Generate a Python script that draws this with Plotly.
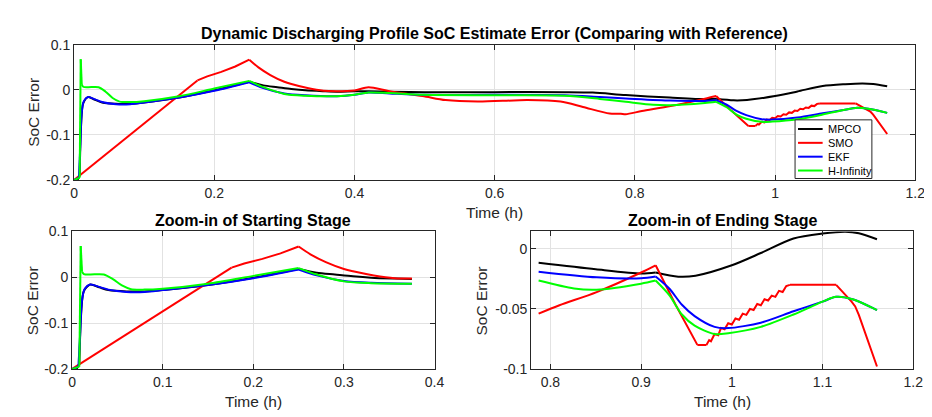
import plotly.graph_objects as go
import numpy as np

# ---------------- data ----------------
mpco_t = [0, 0.005, 0.008, 0.010, 0.013, 0.02, 0.03, 0.04, 0.06, 0.08, 0.1, 0.15, 0.2, 0.25,
          0.27, 0.29, 0.31, 0.33, 0.356, 0.375, 0.4, 0.42, 0.45, 0.5, 0.6, 0.7, 0.74, 0.787,
          0.85, 0.9, 0.916, 0.941, 0.96, 1.0, 1.032, 1.068, 1.1, 1.125, 1.14, 1.16]
mpco_v = [-0.2, -0.2, -0.19, -0.08, -0.03, -0.016, -0.022, -0.028, -0.031, -0.031, -0.028, -0.017,
          -0.001, 0.018, 0.010, 0.006, 0.002, -0.001, -0.003, -0.004, -0.003, -0.003, -0.004, -0.005,
          -0.005, -0.005, -0.006, -0.0116, -0.017, -0.0205, -0.0197, -0.0232, -0.0224, -0.0137,
          -0.0035, 0.0086, 0.0127, 0.0143, 0.013, 0.008]

smo_t = [0, 0.176, 0.19, 0.21, 0.23, 0.25, 0.263, 0.28, 0.3, 0.31, 0.333, 0.356, 0.375, 0.4,
         0.42, 0.45, 0.497, 0.53, 0.576, 0.647, 0.694, 0.726, 0.764, 0.78, 0.787, 0.81, 0.851,
         0.9, 0.916, 0.938, 0.962, 0.972,
         0.975, 0.977, 0.981, 0.985, 0.988, 0.992, 0.996, 1.0, 1.004, 1.008, 1.012, 1.016,
         1.02, 1.024, 1.028, 1.032, 1.036, 1.04, 1.044, 1.048, 1.052, 1.056, 1.06, 1.064,
         1.08, 1.1, 1.115, 1.12, 1.124, 1.128, 1.132, 1.136, 1.14, 1.16]
smo_v = [-0.2, 0.021, 0.030, 0.040, 0.052, 0.067, 0.050, 0.033, 0.018, 0.013, 0.004, -0.002,
         -0.003, -0.0013, 0.0057, -0.003, -0.0135, -0.0227, -0.026, -0.0227, -0.026, -0.038,
         -0.0525, -0.053, -0.054, -0.047, -0.036, -0.0197, -0.0137, -0.0466, -0.080, -0.080,
         -0.076, -0.077, -0.071, -0.072, -0.066, -0.067, -0.062, -0.063, -0.058, -0.059, -0.054,
         -0.055, -0.050, -0.051, -0.046, -0.047, -0.042, -0.043, -0.039, -0.040, -0.035, -0.036,
         -0.031, -0.030,
         -0.030, -0.030, -0.030, -0.034, -0.037, -0.041, -0.044, -0.048, -0.055, -0.098]

ekf_t = [0, 0.007, 0.009, 0.011, 0.014, 0.02, 0.03, 0.04, 0.06, 0.08, 0.1, 0.15, 0.2, 0.25,
         0.27, 0.3, 0.33, 0.375, 0.4, 0.42, 0.45, 0.5, 0.6, 0.7, 0.75, 0.787, 0.851, 0.9, 0.916,
         0.931, 0.945, 0.959, 0.981, 0.996, 1.032, 1.068, 1.1, 1.115, 1.133, 1.16]
ekf_v = [-0.2, -0.195, -0.12, -0.05, -0.025, -0.016, -0.021, -0.027, -0.032, -0.032, -0.028,
         -0.017, -0.002, 0.017, 0.004, -0.008, -0.012, -0.014, -0.011, -0.006, -0.008, -0.011,
         -0.011, -0.012, -0.016, -0.019, -0.0237, -0.0245, -0.023, -0.033, -0.0466, -0.056,
         -0.065, -0.066, -0.0615, -0.052, -0.044, -0.040, -0.042, -0.051]

hinf_t = [0, 0.008, 0.0095, 0.011, 0.013, 0.02, 0.035, 0.045, 0.055, 0.065, 0.08, 0.1, 0.15,
          0.2, 0.25, 0.27, 0.3, 0.33, 0.375, 0.4, 0.42, 0.45, 0.5, 0.6, 0.7, 0.75, 0.787, 0.826,
          0.851, 0.9, 0.916, 0.931, 0.945, 0.959, 0.981, 0.996, 1.032, 1.068, 1.1, 1.115, 1.133,
          1.16]
hinf_v = [-0.2, -0.195, 0.068, 0.012, 0.007, 0.006, 0.006, -0.004, -0.018, -0.026, -0.027,
          -0.025, -0.014, 0.003, 0.020, 0.006, -0.009, -0.013, -0.014, -0.0106, -0.0057, -0.007,
          -0.011, -0.012, -0.013, -0.02, -0.0264, -0.033, -0.034, -0.029, -0.0264, -0.0385,
          -0.0547, -0.064, -0.071, -0.0703, -0.065, -0.0547, -0.044, -0.040, -0.042, -0.051]

series_names = ["MPCO", "SMO", "EKF", "H-Infinity"]
series_colors = ["#000000", "#ff0000", "#0000ff", "#00ff00"]
series_t = [mpco_t, smo_t, ekf_t, hinf_t]
series_v = [mpco_v, smo_v, ekf_v, hinf_v]
# sharp corners of each curve (the curve is smooth between them)
series_corners = [
    [0.005, 0.008, 0.25, 0.916],
    [0.176, 0.25, 0.916, 0.962, 0.972, 1.064, 1.115],
    [0.007, 0.009, 0.25, 0.916],
    [0.008, 0.0095, 0.011, 0.25, 0.916],
]
# ranges drawn point-to-point (jagged parts)
series_linear = [[], [(0.0, 0.25), (0.916, 1.064), (1.115, 1.16)], [], []]

start_window = [0.0, 0.375]
end_window = [0.787, 1.16]

top_xticks = [0, 0.2, 0.4, 0.6, 0.8, 1, 1.2]
top_xtext = ["0", "0.2", "0.4", "0.6", "0.8", "1", "1.2"]
top_yticks = [-0.2, -0.1, 0, 0.1]
top_ytext = ["-0.2", "-0.1", "0", "0.1"]
start_xticks = [0, 0.1, 0.2, 0.3, 0.4]
start_xtext = ["0", "0.1", "0.2", "0.3", "0.4"]
end_xticks = [0.8, 0.9, 1.0, 1.1, 1.2]
end_xtext = ["0.8", "0.9", "1", "1.1", "1.2"]
end_yticks = [-0.1, -0.05, 0]
end_ytext = ["-0.1", "-0.05", "0"]

main_title = "Dynamic Discharging Profile SoC Estimate Error (Comparing with Reference)"
start_title = "Zoom-in of Starting Stage"
end_title = "Zoom-in of Ending Stage"
x_label = "Time (h)"
y_label = "SoC Error"

# ---------------- figure ----------------
FONT = "Liberation Sans, Arial, Helvetica, sans-serif"
AX = "#262626"
GRID = "#e2e2e2"
W, H = 932, 417
px = lambda p: p / W
py = lambda p: 1 - p / H


def segments(t, v, corners, linear):
    t = np.asarray(t, float); v = np.asarray(v, float)
    cut = [0] + [int(np.argmin(np.abs(t - c))) for c in corners] + [len(t) - 1]
    cut = sorted(set(cut))
    out = []
    for a, b in zip(cut[:-1], cut[1:]):
        ts, vs = t[a:b + 1], v[a:b + 1]
        lin = any(ts[0] >= lo - 1e-9 and ts[-1] <= hi + 1e-9 for lo, hi in linear)
        out.append((ts, vs, "linear" if (lin or len(ts) < 3) else "spline"))
    return out


fig = go.Figure()
for (xa, ya, win) in [("x", "y", None), ("x2", "y2", start_window), ("x3", "y3", end_window)]:
    for name, col, t, v, cor, lin in zip(series_names, series_colors, series_t, series_v,
                                         series_corners, series_linear):
        for ts, vs, shape in segments(t, v, cor, lin):
            if win is not None:
                m = (ts >= win[0] - 1e-9) & (ts <= win[1] + 1e-9)
                ts, vs = ts[m], vs[m]
                if len(ts) < 2:
                    continue
            fig.add_trace(go.Scatter(x=ts, y=vs, mode="lines", name=name,
                                     line=dict(color=col, width=2, shape=shape, smoothing=0.8),
                                     xaxis=xa, yaxis=ya, showlegend=False, hoverinfo="skip"))


def ax(domain, rng, anchor, tickvals, ticktext):
    return dict(domain=domain, range=rng, anchor=anchor, showgrid=True, gridcolor=GRID,
                gridwidth=1, zeroline=False, showline=True, linecolor=AX, linewidth=1,
                mirror="allticks", ticks="inside", ticklen=5, tickcolor=AX,
                tickmode="array", tickvals=tickvals, ticktext=ticktext,
                tickfont=dict(family=FONT, size=14, color=AX))


fig.update_layout(
    width=W, height=H, autosize=False,
    margin=dict(l=0, r=0, t=0, b=0),
    paper_bgcolor="white", plot_bgcolor="white",
    font=dict(family=FONT, color=AX),
    showlegend=False,
    xaxis=ax([px(63), px(917)], [0, 1.2], "y", top_xticks, top_xtext),
    yaxis=ax([py(170.5), py(30)], [-0.2, 0.1], "x", top_yticks, top_ytext),
    xaxis2=ax([px(61), px(429)], [0, 0.4], "y2", start_xticks, start_xtext),
    yaxis2=ax([py(367), py(224)], [-0.2, 0.1], "x2", top_yticks, top_ytext),
    xaxis3=ax([px(527), px(915)], [0.7787, 1.2], "y3", end_xticks, end_xtext),
    yaxis3=ax([py(367), py(224)], [-0.1, 0.0145], "x3", end_yticks, end_ytext),
)

ann = []
shapes = []


def text(x, y, s, size, bold=False, angle=0, color="#000000", xanchor="center"):
    ann.append(dict(x=px(x), y=py(y), xref="paper", yref="paper",
                    text=(f"<b>{s}</b>" if bold else s),
                    showarrow=False, font=dict(family=FONT, size=size, color=color),
                    textangle=angle, xanchor=xanchor, yanchor="middle"))


text(490, 18, main_title, 16, bold=True)
text(245, 213, start_title, 16, bold=True)
text(721, 213, end_title, 16, bold=True)
text(490, 204, x_label, 15.5, color=AX)
text(245, 401, x_label, 15.5, color=AX)
text(721, 401, x_label, 15.5, color=AX)
text(21, 100, y_label, 15.5, angle=-90, color=AX)
text(21, 296, y_label, 15.5, angle=-90, color=AX)
text(477, 296, y_label, 15.5, angle=-90, color=AX)

# legend box (MATLAB style, compact)
shapes.append(dict(type="rect", xref="paper", yref="paper", x0=px(795), x1=px(873),
                   y0=py(169), y1=py(108), line=dict(color=AX, width=1), fillcolor="white",
                   layer="above"))
for i, (name, col) in enumerate(zip(series_names, series_colors)):
    yy = 117.5 + i * 14.4
    shapes.append(dict(type="line", xref="paper", yref="paper", x0=px(798), x1=px(823),
                       y0=py(yy), y1=py(yy), line=dict(color=col, width=2), layer="above"))
    text(826, yy, name, 11, color="#000000", xanchor="left")

fig.update_layout(annotations=ann, shapes=shapes)
fig.write_html("out.html")
